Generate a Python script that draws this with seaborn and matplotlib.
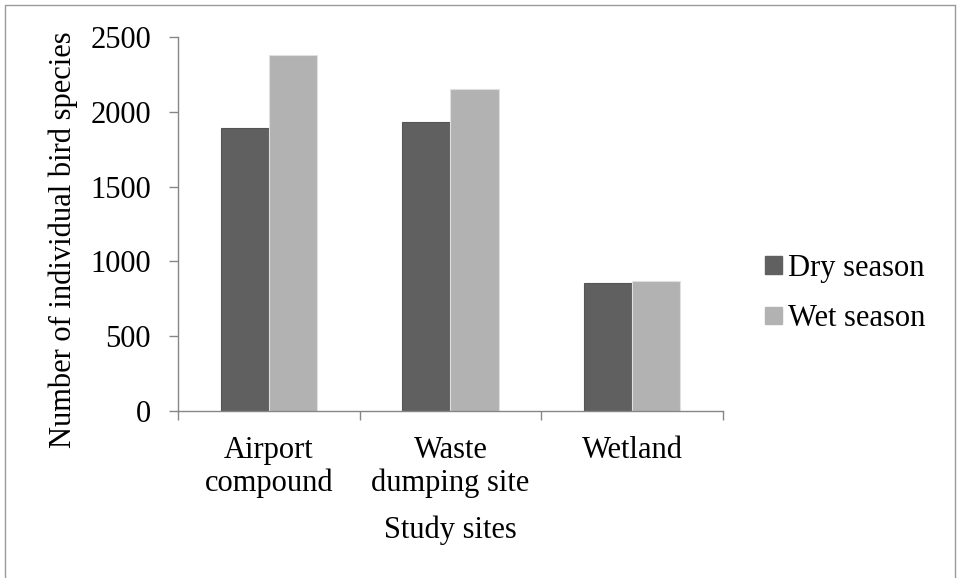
import matplotlib
matplotlib.use("Agg")
import matplotlib.pyplot as plt
import seaborn as sns
import pandas as pd
from matplotlib.lines import Line2D

# data
sites = ["Airport\ncompound", "Waste\ndumping site", "Wetland"]
seasons = ["Dry season", "Wet season"]
dry_counts = [1890, 1930, 857]
wet_counts = [2382, 2150, 866]
y_ticks = [0, 500, 1000, 1500, 2000, 2500]

df = pd.DataFrame({
    "site": sites * 2,
    "season": [seasons[0]] * 3 + [seasons[1]] * 3,
    "count": dry_counts + wet_counts,
})

sns.set_style("white")
plt.rcParams["font.family"] = ["Liberation Serif", "DejaVu Serif"]
plt.rcParams["text.color"] = "black"
plt.rcParams["axes.labelcolor"] = "black"

fig = plt.figure(figsize=(9.58, 5.78), dpi=100)
ax = fig.add_axes([0.1858, 0.2889, 0.5689, 0.6471])

palette = {"Dry season": "#606060", "Wet season": "#b2b2b2"}
sns.barplot(data=df, x="site", y="count", hue="season", palette=palette,
            width=0.53, gap=0, ax=ax, saturation=1, legend=False)
for p, ec in zip(ax.patches, ["#555555"] * 3 + ["#e0e0e0"] * 3):
    p.set_edgecolor(ec)
    p.set_linewidth(0.8)

axis_col = "#868686"
fs = 22
ax.set_ylim(0, 2500)
ax.set_xlim(-0.5, 2.5)
ax.set_yticks(y_ticks)
ax.set_yticklabels([str(v) for v in y_ticks], fontsize=fs)
ax.set_xticks(range(3))
ax.set_xticklabels(sites, fontsize=fs, linespacing=1.15)
ax.set_xticks([-0.5, 0.5, 1.5, 2.5], minor=True)
ax.tick_params(axis="x", which="major", bottom=True, length=0, pad=18)
ax.tick_params(axis="x", which="minor", bottom=True, length=6.5, width=1,
               color=axis_col, direction="out")
ax.tick_params(axis="y", left=True, length=6.5, width=1, color=axis_col,
               direction="out", pad=13)
ax.tick_params(which="both", labelcolor="black")

for side in ["top", "right"]:
    ax.spines[side].set_visible(False)
for side in ["left", "bottom"]:
    ax.spines[side].set_color(axis_col)
    ax.spines[side].set_linewidth(1)

ax.set_xlabel("Study sites", fontsize=fs, labelpad=13)
ax.set_ylabel("Number of individual bird species", fontsize=fs)
ax.yaxis.set_label_coords(-0.183, 0.457)

handles = [plt.Rectangle((0, 0), 1, 1, color=palette[s]) for s in seasons]
fig.legend(handles, seasons, loc="center left", bbox_to_anchor=(0.7985, 0.492),
           frameon=False, fontsize=fs, handlelength=0.56, handleheight=0.5,
           handletextpad=0.2, labelspacing=0.7, borderpad=0, borderaxespad=0)

# grey frame around the figure
frame_col = "#9a9a9a"
for xs, ys in [([0.005, 0.005], [0.0, 0.992]), ([0.005, 0.997], [0.992, 0.992]),
               ([0.997, 0.997], [0.0, 0.992])]:
    fig.add_artist(Line2D(xs, ys, transform=fig.transFigure, color=frame_col, lw=1))

fig.savefig("out.png", dpi=100)
